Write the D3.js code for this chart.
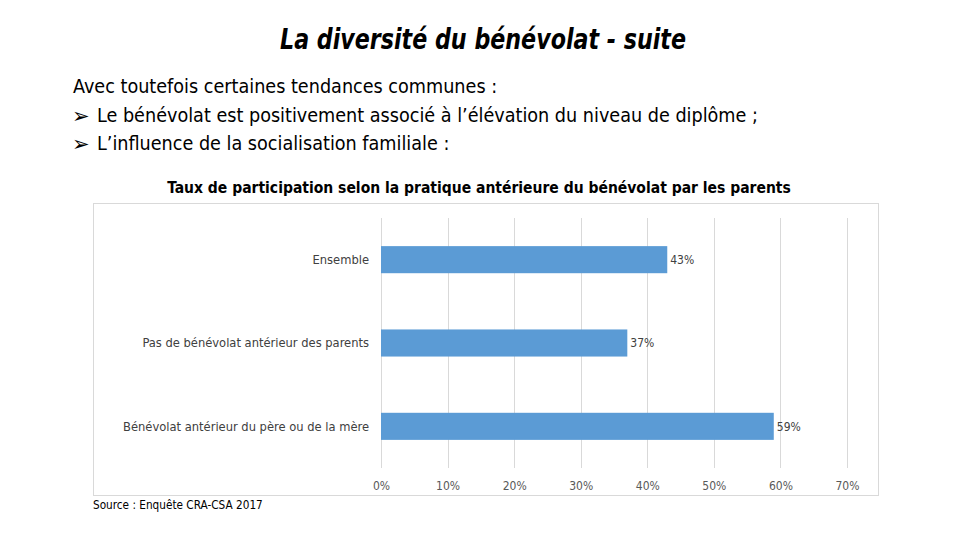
<!DOCTYPE html>
<html><head><meta charset="utf-8">
<script src="https://cdn.jsdelivr.net/npm/d3@7"></script>
<style>
body{margin:0;background:#fff;}
svg{display:block;}
</style></head>
<body>
<svg id="c" width="960" height="540"></svg>
<script>
const categories = ["Ensemble", "Pas de bénévolat antérieur des parents", "Bénévolat antérieur du père ou de la mère"];
const values = [0.43, 0.37, 0.59];
const valueLabels = ["43%", "37%", "59%"];
const ticks = [0, 0.1, 0.2, 0.3, 0.4, 0.5, 0.6, 0.7];
const tickLabels = ["0%", "10%", "20%", "30%", "40%", "50%", "60%", "70%"];

const svg = d3.select("#c");
const narrow = "'Liberation Sans Narrow','Arial Narrow','DejaVu Sans Condensed',sans-serif";

// Slide title
svg.append("text").attr("x", 280).attr("y", 49)
  .attr("font-family", narrow).attr("font-style", "italic").attr("font-weight", "bold")
  .attr("font-size", 29).attr("fill", "#000")
  .attr("textLength", 406).attr("lengthAdjust", "spacingAndGlyphs")
  .text("La diversité du bénévolat - suite");

// Body text
const body = svg.append("g").attr("font-family", narrow).attr("font-size", 19.6).attr("fill", "#000");
body.append("text").attr("x", 73).attr("y", 93).text("Avec toutefois certaines tendances communes :");
body.append("text").attr("x", 72).attr("y", 123).attr("font-family", "'DejaVu Sans',sans-serif").attr("font-size", 21).text("➢");
body.append("text").attr("x", 97).attr("y", 122).text("Le bénévolat est positivement associé à l’élévation du niveau de diplôme ;");
body.append("text").attr("x", 72).attr("y", 151).attr("font-family", "'DejaVu Sans',sans-serif").attr("font-size", 21).text("➢");
body.append("text").attr("x", 97).attr("y", 150).text("L’influence de la socialisation familiale :");

// Chart title
svg.append("text").attr("x", 479).attr("y", 193).attr("text-anchor", "middle")
  .attr("font-family", narrow).attr("font-weight", "bold").attr("font-size", 15.5).attr("fill", "#000")
  .text("Taux de participation selon la pratique antérieure du bénévolat par les parents");

// Chart frame
svg.append("rect").attr("x", 93.5).attr("y", 203.5).attr("width", 785).attr("height", 292)
  .attr("fill", "none").attr("stroke", "#D9D9D9").attr("stroke-width", 1);

const x = d3.scaleLinear().domain([0, 0.7]).range([381, 847]);
const y = d3.scaleBand().domain(categories).range([218, 468]).paddingInner(0.675).paddingOuter(0.3375);

// gridlines
svg.append("g").selectAll("line").data(ticks).join("line")
  .attr("x1", d => Math.round(x(d)) + 0.5).attr("x2", d => Math.round(x(d)) + 0.5)
  .attr("y1", 218).attr("y2", 468)
  .attr("stroke", "#D9D9D9").attr("stroke-width", 1);

// bars
svg.append("g").selectAll("rect").data(values).join("rect")
  .attr("x", x(0)).attr("y", (d, i) => y(categories[i]))
  .attr("width", d => x(d) - x(0)).attr("height", y.bandwidth())
  .attr("fill", "#5B9BD5");

// value labels
svg.append("g").selectAll("text").data(values).join("text")
  .attr("x", d => x(d) + 3).attr("y", (d, i) => y(categories[i]) + y.bandwidth() / 2)
  .attr("dy", "0.35em").attr("font-family", narrow).attr("font-size", 12).attr("fill", "#404040")
  .text((d, i) => valueLabels[i]);

// category labels
svg.append("g").selectAll("text").data(categories).join("text")
  .attr("x", 369).attr("y", d => y(d) + y.bandwidth() / 2)
  .attr("dy", "0.35em").attr("text-anchor", "end")
  .attr("font-family", narrow).attr("font-size", 12.8).attr("fill", "#404040")
  .text(d => d);

// x axis tick labels
const axis = d3.axisBottom(x).tickValues(ticks).tickFormat((d, i) => tickLabels[i]).tickSize(0).tickPadding(0);
const ax = svg.append("g").attr("transform", "translate(0,481)").call(axis);
ax.select(".domain").remove();
ax.selectAll("text").attr("font-family", narrow).attr("font-size", 12).attr("fill", "#595959");

// Source
svg.append("text").attr("x", 93).attr("y", 509).attr("font-family", narrow).attr("font-size", 11.7).attr("fill", "#000")
  .text("Source : Enquête CRA-CSA 2017");
</script>
</body></html>
